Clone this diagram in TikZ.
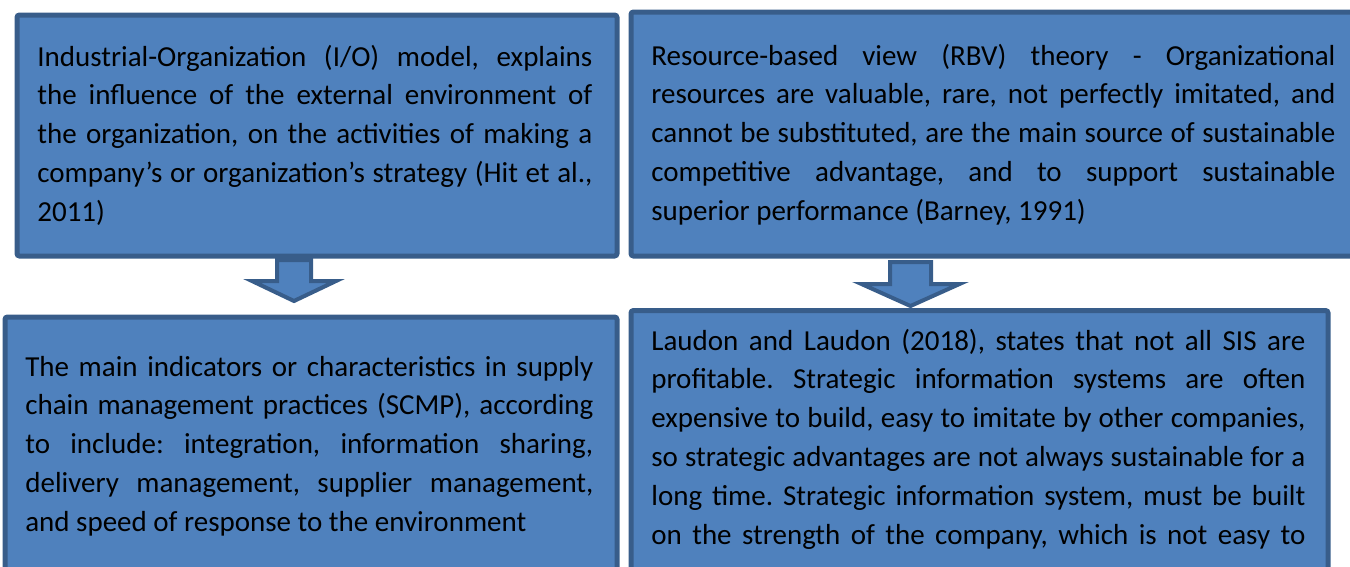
\documentclass[tikz,border=0pt]{standalone}
\usepackage{fontspec}
\setmainfont{Carlito}
\usepackage{xcolor}
\definecolor{boxblue}{RGB}{79,129,189}
\definecolor{boxedge}{RGB}{56,93,138}
\hbadness=10000

\begin{document}
\begin{tikzpicture}[x=0.2mm, y=-0.2mm,
  box/.style={draw=boxedge, fill=boxblue, line width=1mm, inner sep=0pt, anchor=north west, rounded corners=0.5mm},
  txt/.style={inner sep=0pt, anchor=base west, align=justify, font=\fontsize{16.5}{22.1}\selectfont\frenchspacing},
  blockarrow/.style={draw=boxedge, fill=boxblue, line width=0.8mm}
]
  \useasboundingbox (0,0) rectangle (1350,566);
  \clip (0,0) rectangle (1350,566);

  % the four boxes
  \node[box, minimum width=120mm, minimum height=48.2mm] (io) at (14.5,12.5) {};
  \node[box, minimum width=160mm, minimum height=48.8mm] (rbv) at (628.5,9.5) {};
  \node[box, minimum width=122.4mm, minimum height=57.1mm] (scmp) at (2.5,314.5) {};
  \node[box, minimum width=139.4mm, minimum height=58.4mm] (sis) at (628.5,308) {};

  % texts
  \node[txt, text width=111mm] (iotext) at (37,66) {Industrial-Organization (I/O) model, explains\linebreak
    the influence of the external environment of\linebreak
    the organization, on the activities of making a\linebreak
    company's or organization's strategy (Hit et al.,\linebreak
    2011)};
  \node[txt, text width=136.8mm] (rbvtext) at (651,65) {Resource-based view (RBV) theory - Organizational\linebreak
    resources are valuable, rare, not perfectly imitated, and\linebreak
    cannot be substituted, are the main source of sustainable\linebreak
    competitive advantage, and to support sustainable\linebreak
    superior performance (Barney, 1991)};
  \node[txt, text width=113.6mm] (scmptext) at (25,376) {The main indicators or characteristics in supply\linebreak
    chain management practices (SCMP), according\linebreak
    to include: integration, information sharing,\linebreak
    delivery management, supplier management,\linebreak
    and speed of response to the environment};
  \node[txt, text width=130.8mm] (sistext) at (651,350) {Laudon and Laudon (2018), states that not all SIS are\linebreak
    profitable. Strategic information systems are often\linebreak
    expensive to build, easy to imitate by other companies,\linebreak
    so strategic advantages are not always sustainable for a\linebreak
    long time. Strategic information system, must be built\linebreak
    on the strength of the company, which is not easy to\linebreak};

  % block arrows between the rows
  \foreach \cx/\top/\sh/\tip/\sw/\hw in {294/260/281/301/17/42, 910.5/262/284/306/20.5/49} {
    \draw[blockarrow] (\cx-\sw,\top) -- (\cx+\sw,\top) -- (\cx+\sw,\sh) -- (\cx+\hw,\sh)
      -- (\cx,\tip) -- (\cx-\hw,\sh) -- (\cx-\sw,\sh) -- cycle;
  }
\end{tikzpicture}
\end{document}
